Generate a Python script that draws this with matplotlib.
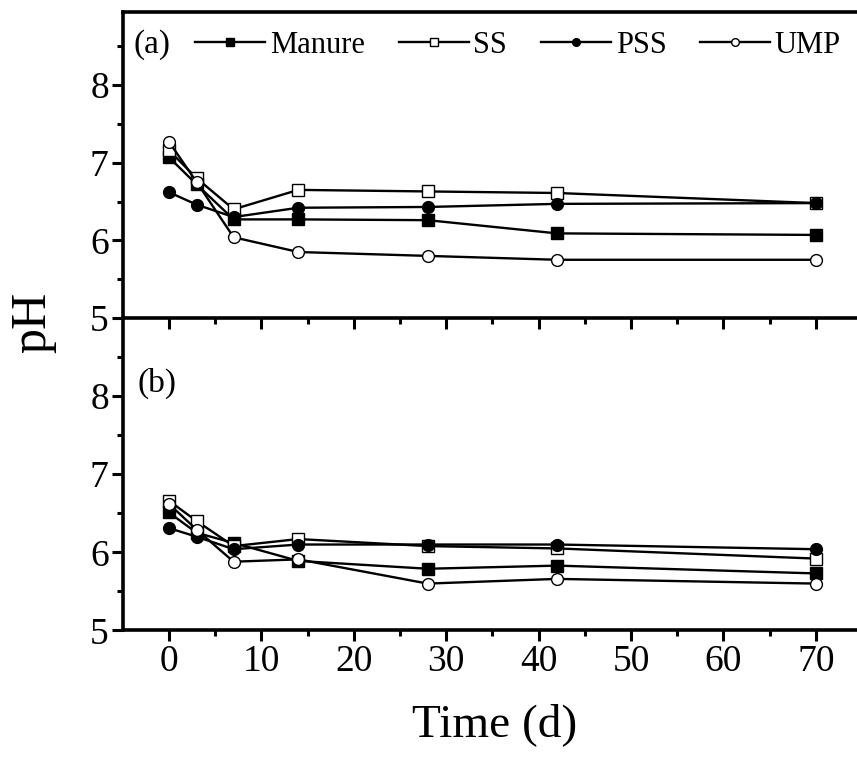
import numpy as np
import matplotlib.pyplot as plt

plt.rcParams['font.family'] = ['Liberation Serif', 'DejaVu Serif']

# sampling days
days = [0, 3, 7, 14, 28, 42, 70]

# panel (a)
manure_a = [7.07, 6.72, 6.27, 6.27, 6.26, 6.09, 6.07]
ss_a = [7.16, 6.80, 6.40, 6.65, 6.63, 6.61, 6.48]
pss_a = [6.62, 6.46, 6.30, 6.42, 6.43, 6.47, 6.48]
ump_a = [7.27, 6.75, 6.04, 5.85, 5.80, 5.75, 5.75]

# panel (b)
manure_b = [6.51, 6.25, 6.12, 5.89, 5.79, 5.83, 5.73]
ss_b = [6.66, 6.40, 6.08, 6.17, 6.08, 6.05, 5.92]
pss_b = [6.31, 6.20, 6.04, 6.10, 6.10, 6.10, 6.04]
ump_b = [6.62, 6.29, 5.88, 5.91, 5.60, 5.66, 5.60]

names = ['Manure', 'SS', 'PSS', 'UMP']
styles = [('s', 'black'), ('s', 'white'), ('o', 'black'), ('o', 'white')]

fig = plt.figure(figsize=(8.57, 7.63), dpi=100)
ax2 = fig.add_axes([0.1432, 0.1737, 0.8626, 0.4096])
ax1 = fig.add_axes([0.1432, 0.5832, 0.8626, 0.401])
# top panel on top so its bottom spine / ticks are not covered
ax1.set_zorder(2)
ax1.patch.set_visible(False)


def draw(ax, series):
    handles = []
    for name, vals, (mk, fc) in zip(names, series, styles):
        h, = ax.plot(days, vals, color='black', lw=1.7, marker=mk,
                     markersize=8.5, markerfacecolor=fc,
                     markeredgecolor='black', markeredgewidth=1.0,
                     label=name)
        handles.append(h)
    ax.set_xlim(-5, 75)
    ax.set_yticks([5, 6, 7, 8])
    ax.set_yticks([5.5, 6.5, 7.5, 8.5], minor=True)
    ax.set_xticks(np.arange(0, 80, 10))
    ax.set_xticks(np.arange(5, 75, 10), minor=True)
    ax.spines['right'].set_visible(False)
    for s in ['left', 'top', 'bottom']:
        ax.spines[s].set_linewidth(2.6)
    ax.tick_params(which='major', direction='out', length=8, width=2.2,
                   labelsize=27, pad=2)
    ax.tick_params(which='minor', direction='out', length=4.5, width=2.2)
    ax.tick_params(axis='y', right=False, which='both')
    return handles


hs = draw(ax1, [manure_a, ss_a, pss_a, ump_a])
draw(ax2, [manure_b, ss_b, pss_b, ump_b])
ax1.set_ylim(5, 8.94)
ax2.set_ylim(5, 9)
ax1.tick_params(axis='x', labelbottom=False)
ax2.spines['top'].set_visible(False)

ax1.text(0.015, 0.892, '(a)', transform=ax1.transAxes, fontsize=24,
         va='center', ha='left')
ax2.text(0.02, 0.79, '(b)', transform=ax2.transAxes, fontsize=24,
         va='center', ha='left')

ax1.legend(handles=hs, ncol=4, loc='center left',
           bbox_to_anchor=(0.098, 0.892), frameon=False, fontsize=22,
           handlelength=2.3, handletextpad=0.15, columnspacing=1.1,
           borderpad=0, borderaxespad=0, markerscale=0.65)

fig.text(33 / 857, 1 - 322 / 763, 'pH', rotation=90, fontsize=36,
         ha='center', va='center')
fig.text(495 / 857, 1 - 725 / 763, 'Time (d)', fontsize=34,
         ha='center', va='center')

fig.savefig('out.png', dpi=100)
